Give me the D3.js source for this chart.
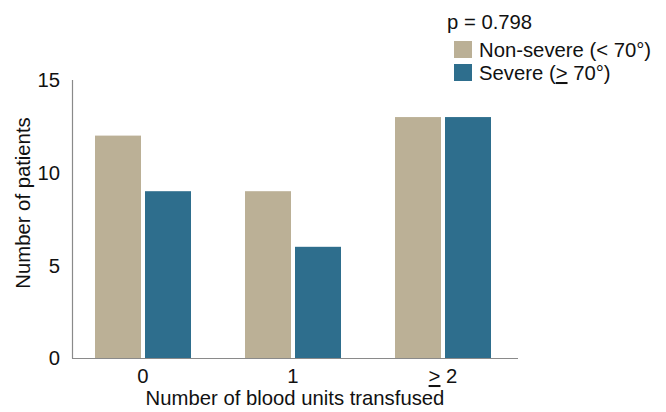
<!DOCTYPE html>
<html>
<head>
<meta charset="utf-8">
<script src="https://cdn.jsdelivr.net/npm/d3@7"></script>
<style>
  html, body { margin: 0; padding: 0; background: #fff; }
  svg text { font-family: "Liberation Sans", Arial, sans-serif; fill: #111; }
</style>
</head>
<body>
<svg id="chart" width="666" height="412"></svg>
<script>
// Patients per number of blood units transfused, split by severity
const categories = ["0", "1", "2"];
const seriesNames = ["Non-severe", "Severe"];
const nonSevere = [12, 9, 13];
const severe = [9, 6, 13];
const yTicks = [0, 5, 10, 15];
const colors = ["#bbb096", "#2e6e8d"];

const fs = 20.3;
const svg = d3.select("#chart");

const x = d3.scaleBand().domain(categories).range([68, 518]).paddingInner(0.36).paddingOuter(0.18);
const xSub = d3.scaleBand().domain(seriesNames).range([0, x.bandwidth()]).paddingInner(0.08);
const y = d3.scaleLinear().domain([0, 15]).range([358, 80]);

const rows = categories.map((c, i) => ({ cat: c, values: [nonSevere[i], severe[i]] }));

// bars
const g = svg.append("g");
g.selectAll("g.grp").data(rows).join("g")
  .attr("class", "grp")
  .attr("transform", d => `translate(${x(d.cat)},0)`)
  .selectAll("rect")
  .data(d => d.values.map((v, j) => ({ name: seriesNames[j], v, j })))
  .join("rect")
  .attr("x", d => xSub(d.name))
  .attr("width", xSub.bandwidth())
  .attr("y", d => y(d.v))
  .attr("height", d => y(0) - y(d.v))
  .attr("fill", d => colors[d.j]);

// axes lines
const axisColor = "#8a8a8a";
svg.append("line").attr("x1", 72.5).attr("x2", 72.5).attr("y1", y(15)).attr("y2", y(0) + 0.5)
  .attr("stroke", axisColor).attr("stroke-width", 1.2);
svg.append("line").attr("x1", 72).attr("x2", 518).attr("y1", y(0) + 0.5).attr("y2", y(0) + 0.5)
  .attr("stroke", axisColor).attr("stroke-width", 1.2);

// y tick labels
svg.append("g").selectAll("text").data(yTicks).join("text")
  .attr("x", 60).attr("y", d => y(d)).attr("dy", "0.36em")
  .attr("text-anchor", "end").attr("font-size", fs)
  .text(d => d);

// x tick labels
const xl = svg.append("g").selectAll("text").data(categories).join("text")
  .attr("x", c => x(c) + x.bandwidth() / 2)
  .attr("y", 383).attr("text-anchor", "middle").attr("font-size", fs);
xl.each(function(c) {
  const t = d3.select(this);
  if (c === "2") {
    t.append("tspan").attr("text-decoration", "underline").text(">");
    t.append("tspan").text(" 2");
  } else {
    t.text(c);
  }
});

// axis titles
svg.append("text").attr("x", 295).attr("y", 405).attr("text-anchor", "middle")
  .attr("font-size", fs).text("Number of blood units transfused");
svg.append("text").attr("transform", "translate(30,203) rotate(-90)")
  .attr("text-anchor", "middle").attr("font-size", fs).text("Number of patients");

// legend
svg.append("text").attr("x", 447).attr("y", 29).attr("font-size", fs).text("p = 0.798");
const leg = svg.append("g");
const legLabels = [
  [{ t: "Non-severe (< 70°)" }],
  [{ t: "Severe (" }, { t: ">", u: true }, { t: " 70°)" }]
];
legLabels.forEach((parts, i) => {
  const yy = 41 + i * 23;
  leg.append("rect").attr("x", 454).attr("y", yy).attr("width", 18).attr("height", 17).attr("fill", colors[i]);
  const t = leg.append("text").attr("x", 479).attr("y", yy + 16).attr("font-size", fs);
  parts.forEach(p => {
    const ts = t.append("tspan").text(p.t);
    if (p.u) ts.attr("text-decoration", "underline");
  });
});
</script>
</body>
</html>
